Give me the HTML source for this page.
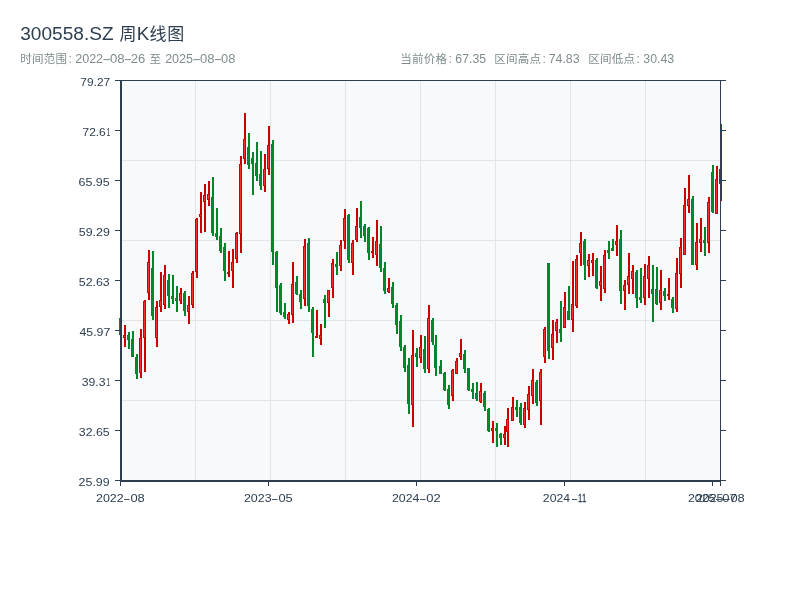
<!DOCTYPE html>
<html lang="zh"><head><meta charset="utf-8"><title>300558.SZ 周K线图</title>
<style>html,body{margin:0;padding:0;background:#fff;}svg{display:block;will-change:transform;}text{font-family:"Liberation Sans","Noto Sans CJK SC",sans-serif;}.ax{fill:#2c3e50;font-size:11px;}.sub{fill:#7f8c8d;font-size:12px;}.ttl{fill:#2c3e50;font-size:18px;}.cj{font-size:17px;}.cs{font-size:11.5px;}</style>
</head><body>
<svg width="800" height="600" viewBox="0 0 800 600">
<rect x="0" y="0" width="800" height="600" fill="#ffffff"/>
<text class="ttl" y="39.5"><tspan x="20.27" textLength="93.32" lengthAdjust="spacingAndGlyphs">300558.SZ</tspan> <tspan class="cj" x="119.6">周</tspan><tspan x="136.66" textLength="12.56" lengthAdjust="spacingAndGlyphs">K</tspan><tspan class="cj" x="149.6 167.2">线图</tspan></text>
<text class="sub" y="63"><tspan class="cs" x="20.2 31.95 43.7 55.45">时间范围</tspan><tspan x="68.5">:</tspan> <tspan x="75.17" textLength="27.96" lengthAdjust="spacingAndGlyphs">2022</tspan><tspan x="102.32" textLength="8.87" lengthAdjust="spacingAndGlyphs">-</tspan><tspan x="109.99" textLength="14.58" lengthAdjust="spacingAndGlyphs">08</tspan><tspan x="123.67" textLength="8.46" lengthAdjust="spacingAndGlyphs">-</tspan><tspan x="130.84" textLength="14.53" lengthAdjust="spacingAndGlyphs">26</tspan> <tspan class="cs" x="149.5">至</tspan> <tspan x="165.17" textLength="27.86" lengthAdjust="spacingAndGlyphs">2025</tspan><tspan x="192.32" textLength="8.87" lengthAdjust="spacingAndGlyphs">-</tspan><tspan x="199.99" textLength="14.58" lengthAdjust="spacingAndGlyphs">08</tspan><tspan x="213.67" textLength="8.46" lengthAdjust="spacingAndGlyphs">-</tspan><tspan x="221" textLength="14.37" lengthAdjust="spacingAndGlyphs">08</tspan></text>
<text class="sub" y="63"><tspan class="cs" x="400.3 412.05 423.8 435.55">当前价格</tspan><tspan x="448.5">:</tspan> <tspan x="455.38" textLength="30.64" lengthAdjust="spacingAndGlyphs">67.35</tspan>  <tspan class="cs" x="494.3 506.05 517.8 529.55">区间高点</tspan><tspan x="542.5">:</tspan> <tspan x="548.67" textLength="30.87" lengthAdjust="spacingAndGlyphs">74.83</tspan>  <tspan class="cs" x="588.3 600.05 611.8 623.55">区间低点</tspan><tspan x="636.5">:</tspan> <tspan x="643.33" textLength="30.81" lengthAdjust="spacingAndGlyphs">30.43</tspan></text>
<rect x="120" y="80" width="600" height="400" fill="#f8f9fa"/>
<rect x="195" y="80" width="1" height="400" fill="#e1e5e9"/>
<rect x="270" y="80" width="1" height="400" fill="#e1e5e9"/>
<rect x="345" y="80" width="1" height="400" fill="#e1e5e9"/>
<rect x="420" y="80" width="1" height="400" fill="#e1e5e9"/>
<rect x="495" y="80" width="1" height="400" fill="#e1e5e9"/>
<rect x="570" y="80" width="1" height="400" fill="#e1e5e9"/>
<rect x="645" y="80" width="1" height="400" fill="#e1e5e9"/>
<rect x="120" y="160" width="600" height="1" fill="#e1e5e9"/>
<rect x="120" y="240" width="600" height="1" fill="#e1e5e9"/>
<rect x="120" y="320" width="600" height="1" fill="#e1e5e9"/>
<rect x="120" y="400" width="600" height="1" fill="#e1e5e9"/>
<g>
<rect x="120" y="318" width="2" height="17" fill="#00852c"/>
<rect x="119" y="318" width="3" height="17" fill="#00852c"/>
<rect x="120" y="319" width="1" height="15" fill="#008d30"/>
<rect x="124" y="325" width="2" height="22" fill="#cc0000"/>
<rect x="123" y="335" width="3" height="3" fill="#cc0000"/>
<rect x="124" y="336" width="1" height="1" fill="#ff2e2e"/>
<rect x="128" y="332" width="2" height="17" fill="#00852c"/>
<rect x="127" y="335" width="3" height="5" fill="#00852c"/>
<rect x="128" y="336" width="1" height="3" fill="#008d30"/>
<rect x="132" y="331" width="2" height="26" fill="#00852c"/>
<rect x="131" y="339" width="3" height="18" fill="#00852c"/>
<rect x="132" y="340" width="1" height="16" fill="#008d30"/>
<rect x="136" y="354" width="2" height="25" fill="#00852c"/>
<rect x="135" y="357" width="3" height="17" fill="#00852c"/>
<rect x="136" y="358" width="1" height="15" fill="#008d30"/>
<rect x="140" y="329" width="2" height="49" fill="#cc0000"/>
<rect x="139" y="338" width="3" height="35" fill="#cc0000"/>
<rect x="140" y="339" width="1" height="33" fill="#ff2e2e"/>
<rect x="144" y="300" width="2" height="72" fill="#cc0000"/>
<rect x="143" y="301" width="3" height="37" fill="#cc0000"/>
<rect x="144" y="302" width="1" height="35" fill="#ff2e2e"/>
<rect x="148" y="250" width="2" height="50" fill="#cc0000"/>
<rect x="147" y="262" width="3" height="31" fill="#cc0000"/>
<rect x="148" y="263" width="1" height="29" fill="#ff2e2e"/>
<rect x="152" y="251" width="2" height="69" fill="#00852c"/>
<rect x="151" y="268" width="3" height="48" fill="#00852c"/>
<rect x="152" y="269" width="1" height="46" fill="#008d30"/>
<rect x="156" y="301" width="2" height="46" fill="#cc0000"/>
<rect x="155" y="307" width="3" height="31" fill="#cc0000"/>
<rect x="156" y="308" width="1" height="29" fill="#ff2e2e"/>
<rect x="160" y="272" width="2" height="40" fill="#cc0000"/>
<rect x="159" y="300" width="3" height="7" fill="#cc0000"/>
<rect x="160" y="301" width="1" height="5" fill="#ff2e2e"/>
<rect x="164" y="265" width="2" height="44" fill="#cc0000"/>
<rect x="163" y="275" width="3" height="30" fill="#cc0000"/>
<rect x="164" y="276" width="1" height="28" fill="#ff2e2e"/>
<rect x="168" y="274" width="2" height="34" fill="#00852c"/>
<rect x="167" y="280" width="3" height="16" fill="#00852c"/>
<rect x="168" y="281" width="1" height="14" fill="#008d30"/>
<rect x="172" y="275" width="2" height="29" fill="#00852c"/>
<rect x="171" y="296" width="3" height="3" fill="#00852c"/>
<rect x="172" y="297" width="1" height="1" fill="#008d30"/>
<rect x="176" y="286" width="2" height="26" fill="#00852c"/>
<rect x="175" y="298" width="3" height="3" fill="#00852c"/>
<rect x="176" y="299" width="1" height="1" fill="#008d30"/>
<rect x="180" y="288" width="2" height="16" fill="#cc0000"/>
<rect x="179" y="293" width="3" height="8" fill="#cc0000"/>
<rect x="180" y="294" width="1" height="6" fill="#ff2e2e"/>
<rect x="184" y="291" width="2" height="25" fill="#00852c"/>
<rect x="183" y="293" width="3" height="18" fill="#00852c"/>
<rect x="184" y="294" width="1" height="16" fill="#008d30"/>
<rect x="188" y="296" width="2" height="28" fill="#cc0000"/>
<rect x="187" y="305" width="3" height="7" fill="#cc0000"/>
<rect x="188" y="306" width="1" height="5" fill="#ff2e2e"/>
<rect x="192" y="271" width="2" height="37" fill="#cc0000"/>
<rect x="191" y="273" width="3" height="32" fill="#cc0000"/>
<rect x="192" y="274" width="1" height="30" fill="#ff2e2e"/>
<rect x="196" y="218" width="2" height="60" fill="#cc0000"/>
<rect x="195" y="219" width="3" height="53" fill="#cc0000"/>
<rect x="196" y="220" width="1" height="51" fill="#ff2e2e"/>
<rect x="200" y="192" width="2" height="41" fill="#cc0000"/>
<rect x="199" y="214" width="3" height="3" fill="#cc0000"/>
<rect x="200" y="215" width="1" height="1" fill="#ff2e2e"/>
<rect x="204" y="184" width="2" height="48" fill="#cc0000"/>
<rect x="203" y="195" width="3" height="7" fill="#cc0000"/>
<rect x="204" y="196" width="1" height="5" fill="#ff2e2e"/>
<rect x="208" y="181" width="2" height="25" fill="#cc0000"/>
<rect x="207" y="194" width="3" height="6" fill="#cc0000"/>
<rect x="208" y="195" width="1" height="4" fill="#ff2e2e"/>
<rect x="212" y="177" width="2" height="59" fill="#00852c"/>
<rect x="211" y="197" width="3" height="36" fill="#00852c"/>
<rect x="212" y="198" width="1" height="34" fill="#008d30"/>
<rect x="216" y="208" width="2" height="32" fill="#00852c"/>
<rect x="215" y="233" width="3" height="4" fill="#00852c"/>
<rect x="216" y="234" width="1" height="2" fill="#008d30"/>
<rect x="220" y="228" width="2" height="25" fill="#00852c"/>
<rect x="219" y="236" width="3" height="15" fill="#00852c"/>
<rect x="220" y="237" width="1" height="13" fill="#008d30"/>
<rect x="224" y="243" width="2" height="38" fill="#00852c"/>
<rect x="223" y="247" width="3" height="24" fill="#00852c"/>
<rect x="224" y="248" width="1" height="22" fill="#008d30"/>
<rect x="228" y="251" width="2" height="26" fill="#cc0000"/>
<rect x="227" y="272" width="3" height="2" fill="#cc0000"/>
<rect x="232" y="249" width="2" height="39" fill="#cc0000"/>
<rect x="231" y="262" width="3" height="9" fill="#cc0000"/>
<rect x="232" y="263" width="1" height="7" fill="#ff2e2e"/>
<rect x="236" y="232" width="2" height="31" fill="#cc0000"/>
<rect x="235" y="233" width="3" height="26" fill="#cc0000"/>
<rect x="236" y="234" width="1" height="24" fill="#ff2e2e"/>
<rect x="240" y="156" width="2" height="97" fill="#cc0000"/>
<rect x="239" y="164" width="3" height="70" fill="#cc0000"/>
<rect x="240" y="165" width="1" height="68" fill="#ff2e2e"/>
<rect x="244" y="113" width="2" height="51" fill="#cc0000"/>
<rect x="243" y="139" width="3" height="20" fill="#cc0000"/>
<rect x="244" y="140" width="1" height="18" fill="#ff2e2e"/>
<rect x="248" y="133" width="2" height="36" fill="#00852c"/>
<rect x="247" y="147" width="3" height="18" fill="#00852c"/>
<rect x="248" y="148" width="1" height="16" fill="#008d30"/>
<rect x="252" y="152" width="2" height="43" fill="#00852c"/>
<rect x="251" y="158" width="3" height="6" fill="#00852c"/>
<rect x="252" y="159" width="1" height="4" fill="#008d30"/>
<rect x="256" y="142" width="2" height="39" fill="#00852c"/>
<rect x="255" y="163" width="3" height="13" fill="#00852c"/>
<rect x="256" y="164" width="1" height="11" fill="#008d30"/>
<rect x="260" y="151" width="2" height="39" fill="#00852c"/>
<rect x="259" y="174" width="3" height="12" fill="#00852c"/>
<rect x="260" y="175" width="1" height="10" fill="#008d30"/>
<rect x="264" y="154" width="2" height="38" fill="#cc0000"/>
<rect x="263" y="169" width="3" height="17" fill="#cc0000"/>
<rect x="264" y="170" width="1" height="15" fill="#ff2e2e"/>
<rect x="268" y="126" width="2" height="49" fill="#cc0000"/>
<rect x="267" y="145" width="3" height="24" fill="#cc0000"/>
<rect x="268" y="146" width="1" height="22" fill="#ff2e2e"/>
<rect x="272" y="140" width="2" height="125" fill="#00852c"/>
<rect x="271" y="144" width="3" height="108" fill="#00852c"/>
<rect x="272" y="145" width="1" height="106" fill="#008d30"/>
<rect x="276" y="251" width="2" height="61" fill="#00852c"/>
<rect x="275" y="252" width="3" height="36" fill="#00852c"/>
<rect x="276" y="253" width="1" height="34" fill="#008d30"/>
<rect x="280" y="283" width="2" height="32" fill="#00852c"/>
<rect x="279" y="285" width="3" height="28" fill="#00852c"/>
<rect x="280" y="286" width="1" height="26" fill="#008d30"/>
<rect x="284" y="303" width="2" height="16" fill="#00852c"/>
<rect x="283" y="312" width="3" height="5" fill="#00852c"/>
<rect x="284" y="313" width="1" height="3" fill="#008d30"/>
<rect x="288" y="312" width="2" height="12" fill="#cc0000"/>
<rect x="287" y="314" width="3" height="6" fill="#cc0000"/>
<rect x="288" y="315" width="1" height="4" fill="#ff2e2e"/>
<rect x="292" y="262" width="2" height="61" fill="#cc0000"/>
<rect x="291" y="284" width="3" height="31" fill="#cc0000"/>
<rect x="292" y="285" width="1" height="29" fill="#ff2e2e"/>
<rect x="296" y="276" width="2" height="19" fill="#00852c"/>
<rect x="295" y="282" width="3" height="12" fill="#00852c"/>
<rect x="296" y="283" width="1" height="10" fill="#008d30"/>
<rect x="300" y="290" width="2" height="19" fill="#00852c"/>
<rect x="299" y="294" width="3" height="8" fill="#00852c"/>
<rect x="300" y="295" width="1" height="6" fill="#008d30"/>
<rect x="304" y="239" width="2" height="67" fill="#cc0000"/>
<rect x="303" y="246" width="3" height="53" fill="#cc0000"/>
<rect x="304" y="247" width="1" height="51" fill="#ff2e2e"/>
<rect x="308" y="238" width="2" height="74" fill="#00852c"/>
<rect x="307" y="243" width="3" height="63" fill="#00852c"/>
<rect x="308" y="244" width="1" height="61" fill="#008d30"/>
<rect x="312" y="307" width="2" height="50" fill="#00852c"/>
<rect x="311" y="309" width="3" height="24" fill="#00852c"/>
<rect x="312" y="310" width="1" height="22" fill="#008d30"/>
<rect x="316" y="310" width="2" height="28" fill="#cc0000"/>
<rect x="315" y="336" width="3" height="2" fill="#cc0000"/>
<rect x="320" y="324" width="2" height="21" fill="#cc0000"/>
<rect x="319" y="335" width="3" height="4" fill="#cc0000"/>
<rect x="320" y="336" width="1" height="2" fill="#ff2e2e"/>
<rect x="324" y="295" width="2" height="33" fill="#00852c"/>
<rect x="323" y="299" width="3" height="4" fill="#00852c"/>
<rect x="324" y="300" width="1" height="2" fill="#008d30"/>
<rect x="328" y="290" width="2" height="27" fill="#cc0000"/>
<rect x="327" y="290" width="3" height="13" fill="#cc0000"/>
<rect x="328" y="291" width="1" height="11" fill="#ff2e2e"/>
<rect x="332" y="259" width="2" height="39" fill="#cc0000"/>
<rect x="331" y="263" width="3" height="25" fill="#cc0000"/>
<rect x="332" y="264" width="1" height="23" fill="#ff2e2e"/>
<rect x="336" y="252" width="2" height="23" fill="#00852c"/>
<rect x="335" y="264" width="3" height="3" fill="#00852c"/>
<rect x="336" y="265" width="1" height="1" fill="#008d30"/>
<rect x="340" y="240" width="2" height="31" fill="#cc0000"/>
<rect x="339" y="245" width="3" height="21" fill="#cc0000"/>
<rect x="340" y="246" width="1" height="19" fill="#ff2e2e"/>
<rect x="344" y="209" width="2" height="40" fill="#cc0000"/>
<rect x="343" y="218" width="3" height="23" fill="#cc0000"/>
<rect x="344" y="219" width="1" height="21" fill="#ff2e2e"/>
<rect x="348" y="214" width="2" height="49" fill="#00852c"/>
<rect x="347" y="215" width="3" height="45" fill="#00852c"/>
<rect x="348" y="216" width="1" height="43" fill="#008d30"/>
<rect x="352" y="240" width="2" height="35" fill="#cc0000"/>
<rect x="351" y="243" width="3" height="20" fill="#cc0000"/>
<rect x="352" y="244" width="1" height="18" fill="#ff2e2e"/>
<rect x="356" y="208" width="2" height="34" fill="#cc0000"/>
<rect x="355" y="226" width="3" height="14" fill="#cc0000"/>
<rect x="356" y="227" width="1" height="12" fill="#ff2e2e"/>
<rect x="360" y="201" width="2" height="37" fill="#00852c"/>
<rect x="359" y="217" width="3" height="11" fill="#00852c"/>
<rect x="360" y="218" width="1" height="9" fill="#008d30"/>
<rect x="364" y="224" width="2" height="18" fill="#00852c"/>
<rect x="363" y="226" width="3" height="10" fill="#00852c"/>
<rect x="364" y="227" width="1" height="8" fill="#008d30"/>
<rect x="368" y="227" width="2" height="33" fill="#00852c"/>
<rect x="367" y="228" width="3" height="25" fill="#00852c"/>
<rect x="368" y="229" width="1" height="23" fill="#008d30"/>
<rect x="372" y="237" width="2" height="21" fill="#cc0000"/>
<rect x="371" y="251" width="3" height="2" fill="#cc0000"/>
<rect x="376" y="220" width="2" height="46" fill="#cc0000"/>
<rect x="375" y="241" width="3" height="14" fill="#cc0000"/>
<rect x="376" y="242" width="1" height="12" fill="#ff2e2e"/>
<rect x="380" y="226" width="2" height="46" fill="#00852c"/>
<rect x="379" y="244" width="3" height="24" fill="#00852c"/>
<rect x="380" y="245" width="1" height="22" fill="#008d30"/>
<rect x="384" y="262" width="2" height="32" fill="#00852c"/>
<rect x="383" y="268" width="3" height="23" fill="#00852c"/>
<rect x="384" y="269" width="1" height="21" fill="#008d30"/>
<rect x="388" y="278" width="2" height="15" fill="#cc0000"/>
<rect x="387" y="288" width="3" height="4" fill="#cc0000"/>
<rect x="388" y="289" width="1" height="2" fill="#ff2e2e"/>
<rect x="392" y="282" width="2" height="26" fill="#00852c"/>
<rect x="391" y="287" width="3" height="17" fill="#00852c"/>
<rect x="392" y="288" width="1" height="15" fill="#008d30"/>
<rect x="396" y="303" width="2" height="31" fill="#00852c"/>
<rect x="395" y="305" width="3" height="20" fill="#00852c"/>
<rect x="396" y="306" width="1" height="18" fill="#008d30"/>
<rect x="400" y="315" width="2" height="36" fill="#00852c"/>
<rect x="399" y="321" width="3" height="26" fill="#00852c"/>
<rect x="400" y="322" width="1" height="24" fill="#008d30"/>
<rect x="404" y="345" width="2" height="27" fill="#00852c"/>
<rect x="403" y="347" width="3" height="21" fill="#00852c"/>
<rect x="404" y="348" width="1" height="19" fill="#008d30"/>
<rect x="408" y="358" width="2" height="56" fill="#00852c"/>
<rect x="407" y="365" width="3" height="39" fill="#00852c"/>
<rect x="408" y="366" width="1" height="37" fill="#008d30"/>
<rect x="412" y="330" width="2" height="97" fill="#cc0000"/>
<rect x="411" y="355" width="3" height="50" fill="#cc0000"/>
<rect x="412" y="356" width="1" height="48" fill="#ff2e2e"/>
<rect x="416" y="348" width="2" height="19" fill="#00852c"/>
<rect x="415" y="353" width="3" height="4" fill="#00852c"/>
<rect x="416" y="354" width="1" height="2" fill="#008d30"/>
<rect x="420" y="335" width="2" height="28" fill="#cc0000"/>
<rect x="419" y="347" width="3" height="11" fill="#cc0000"/>
<rect x="420" y="348" width="1" height="9" fill="#ff2e2e"/>
<rect x="424" y="336" width="2" height="37" fill="#00852c"/>
<rect x="423" y="349" width="3" height="20" fill="#00852c"/>
<rect x="424" y="350" width="1" height="18" fill="#008d30"/>
<rect x="428" y="305" width="2" height="68" fill="#cc0000"/>
<rect x="427" y="318" width="3" height="51" fill="#cc0000"/>
<rect x="428" y="319" width="1" height="49" fill="#ff2e2e"/>
<rect x="432" y="318" width="2" height="27" fill="#00852c"/>
<rect x="431" y="320" width="3" height="22" fill="#00852c"/>
<rect x="432" y="321" width="1" height="20" fill="#008d30"/>
<rect x="435" y="335" width="2" height="41" fill="#00852c"/>
<rect x="434" y="345" width="3" height="23" fill="#00852c"/>
<rect x="435" y="346" width="1" height="21" fill="#008d30"/>
<rect x="440" y="360" width="2" height="14" fill="#00852c"/>
<rect x="439" y="366" width="3" height="8" fill="#00852c"/>
<rect x="440" y="367" width="1" height="6" fill="#008d30"/>
<rect x="444" y="372" width="2" height="19" fill="#00852c"/>
<rect x="443" y="373" width="3" height="17" fill="#00852c"/>
<rect x="444" y="374" width="1" height="15" fill="#008d30"/>
<rect x="448" y="385" width="2" height="24" fill="#00852c"/>
<rect x="447" y="389" width="3" height="16" fill="#00852c"/>
<rect x="448" y="390" width="1" height="14" fill="#008d30"/>
<rect x="452" y="369" width="2" height="32" fill="#cc0000"/>
<rect x="451" y="370" width="3" height="26" fill="#cc0000"/>
<rect x="452" y="371" width="1" height="24" fill="#ff2e2e"/>
<rect x="456" y="358" width="2" height="16" fill="#cc0000"/>
<rect x="455" y="361" width="3" height="13" fill="#cc0000"/>
<rect x="456" y="362" width="1" height="11" fill="#ff2e2e"/>
<rect x="460" y="339" width="2" height="21" fill="#cc0000"/>
<rect x="459" y="353" width="3" height="4" fill="#cc0000"/>
<rect x="460" y="354" width="1" height="2" fill="#ff2e2e"/>
<rect x="464" y="350" width="2" height="23" fill="#00852c"/>
<rect x="463" y="354" width="3" height="15" fill="#00852c"/>
<rect x="464" y="355" width="1" height="13" fill="#008d30"/>
<rect x="468" y="368" width="2" height="23" fill="#00852c"/>
<rect x="467" y="368" width="3" height="22" fill="#00852c"/>
<rect x="468" y="369" width="1" height="20" fill="#008d30"/>
<rect x="472" y="383" width="2" height="16" fill="#00852c"/>
<rect x="471" y="389" width="3" height="3" fill="#00852c"/>
<rect x="472" y="390" width="1" height="1" fill="#008d30"/>
<rect x="476" y="382" width="2" height="19" fill="#00852c"/>
<rect x="475" y="393" width="3" height="6" fill="#00852c"/>
<rect x="476" y="394" width="1" height="4" fill="#008d30"/>
<rect x="480" y="383" width="2" height="20" fill="#cc0000"/>
<rect x="479" y="391" width="3" height="11" fill="#cc0000"/>
<rect x="480" y="392" width="1" height="9" fill="#ff2e2e"/>
<rect x="484" y="391" width="2" height="20" fill="#00852c"/>
<rect x="483" y="393" width="3" height="14" fill="#00852c"/>
<rect x="484" y="394" width="1" height="12" fill="#008d30"/>
<rect x="488" y="408" width="2" height="24" fill="#00852c"/>
<rect x="487" y="409" width="3" height="22" fill="#00852c"/>
<rect x="488" y="410" width="1" height="20" fill="#008d30"/>
<rect x="492" y="421" width="2" height="22" fill="#cc0000"/>
<rect x="491" y="428" width="3" height="3" fill="#cc0000"/>
<rect x="492" y="429" width="1" height="1" fill="#ff2e2e"/>
<rect x="496" y="423" width="2" height="24" fill="#00852c"/>
<rect x="495" y="428" width="3" height="3" fill="#00852c"/>
<rect x="496" y="429" width="1" height="1" fill="#008d30"/>
<rect x="500" y="433" width="2" height="12" fill="#00852c"/>
<rect x="499" y="434" width="3" height="4" fill="#00852c"/>
<rect x="500" y="435" width="1" height="2" fill="#008d30"/>
<rect x="504" y="426" width="2" height="19" fill="#cc0000"/>
<rect x="503" y="434" width="3" height="4" fill="#cc0000"/>
<rect x="504" y="435" width="1" height="2" fill="#ff2e2e"/>
<rect x="507" y="408" width="2" height="39" fill="#cc0000"/>
<rect x="506" y="419" width="3" height="13" fill="#cc0000"/>
<rect x="507" y="420" width="1" height="11" fill="#ff2e2e"/>
<rect x="512" y="397" width="2" height="24" fill="#cc0000"/>
<rect x="511" y="407" width="3" height="14" fill="#cc0000"/>
<rect x="512" y="408" width="1" height="12" fill="#ff2e2e"/>
<rect x="516" y="400" width="2" height="17" fill="#00852c"/>
<rect x="515" y="407" width="3" height="3" fill="#00852c"/>
<rect x="516" y="408" width="1" height="1" fill="#008d30"/>
<rect x="520" y="403" width="2" height="22" fill="#00852c"/>
<rect x="519" y="407" width="3" height="16" fill="#00852c"/>
<rect x="520" y="408" width="1" height="14" fill="#008d30"/>
<rect x="524" y="402" width="2" height="26" fill="#cc0000"/>
<rect x="523" y="408" width="3" height="17" fill="#cc0000"/>
<rect x="524" y="409" width="1" height="15" fill="#ff2e2e"/>
<rect x="528" y="386" width="2" height="34" fill="#cc0000"/>
<rect x="527" y="394" width="3" height="16" fill="#cc0000"/>
<rect x="528" y="395" width="1" height="14" fill="#ff2e2e"/>
<rect x="532" y="369" width="2" height="35" fill="#cc0000"/>
<rect x="531" y="380" width="3" height="16" fill="#cc0000"/>
<rect x="532" y="381" width="1" height="14" fill="#ff2e2e"/>
<rect x="536" y="380" width="2" height="26" fill="#00852c"/>
<rect x="535" y="382" width="3" height="21" fill="#00852c"/>
<rect x="536" y="383" width="1" height="19" fill="#008d30"/>
<rect x="540" y="369" width="2" height="56" fill="#cc0000"/>
<rect x="539" y="372" width="3" height="29" fill="#cc0000"/>
<rect x="540" y="373" width="1" height="27" fill="#ff2e2e"/>
<rect x="544" y="327" width="2" height="36" fill="#cc0000"/>
<rect x="543" y="329" width="3" height="28" fill="#cc0000"/>
<rect x="544" y="330" width="1" height="26" fill="#ff2e2e"/>
<rect x="548" y="263" width="2" height="96" fill="#00852c"/>
<rect x="547" y="263" width="3" height="88" fill="#00852c"/>
<rect x="548" y="264" width="1" height="86" fill="#008d30"/>
<rect x="552" y="320" width="2" height="40" fill="#cc0000"/>
<rect x="551" y="334" width="3" height="14" fill="#cc0000"/>
<rect x="552" y="335" width="1" height="12" fill="#ff2e2e"/>
<rect x="556" y="319" width="2" height="24" fill="#cc0000"/>
<rect x="555" y="322" width="3" height="9" fill="#cc0000"/>
<rect x="556" y="323" width="1" height="7" fill="#ff2e2e"/>
<rect x="560" y="301" width="2" height="41" fill="#00852c"/>
<rect x="559" y="329" width="3" height="4" fill="#00852c"/>
<rect x="560" y="330" width="1" height="2" fill="#008d30"/>
<rect x="564" y="292" width="2" height="36" fill="#cc0000"/>
<rect x="563" y="307" width="3" height="21" fill="#cc0000"/>
<rect x="564" y="308" width="1" height="19" fill="#ff2e2e"/>
<rect x="568" y="286" width="2" height="34" fill="#00852c"/>
<rect x="567" y="311" width="3" height="9" fill="#00852c"/>
<rect x="568" y="312" width="1" height="7" fill="#008d30"/>
<rect x="572" y="261" width="2" height="71" fill="#cc0000"/>
<rect x="571" y="304" width="3" height="16" fill="#cc0000"/>
<rect x="572" y="305" width="1" height="14" fill="#ff2e2e"/>
<rect x="576" y="255" width="2" height="53" fill="#cc0000"/>
<rect x="575" y="259" width="3" height="47" fill="#cc0000"/>
<rect x="576" y="260" width="1" height="45" fill="#ff2e2e"/>
<rect x="580" y="232" width="2" height="34" fill="#cc0000"/>
<rect x="579" y="243" width="3" height="10" fill="#cc0000"/>
<rect x="580" y="244" width="1" height="8" fill="#ff2e2e"/>
<rect x="584" y="239" width="2" height="41" fill="#00852c"/>
<rect x="583" y="241" width="3" height="24" fill="#00852c"/>
<rect x="584" y="242" width="1" height="22" fill="#008d30"/>
<rect x="588" y="254" width="2" height="23" fill="#cc0000"/>
<rect x="587" y="260" width="3" height="6" fill="#cc0000"/>
<rect x="588" y="261" width="1" height="4" fill="#ff2e2e"/>
<rect x="592" y="253" width="2" height="23" fill="#cc0000"/>
<rect x="591" y="260" width="3" height="3" fill="#cc0000"/>
<rect x="592" y="261" width="1" height="1" fill="#ff2e2e"/>
<rect x="596" y="258" width="2" height="31" fill="#00852c"/>
<rect x="595" y="260" width="3" height="28" fill="#00852c"/>
<rect x="596" y="261" width="1" height="26" fill="#008d30"/>
<rect x="600" y="266" width="2" height="35" fill="#cc0000"/>
<rect x="599" y="281" width="3" height="5" fill="#cc0000"/>
<rect x="600" y="282" width="1" height="3" fill="#ff2e2e"/>
<rect x="604" y="250" width="2" height="43" fill="#cc0000"/>
<rect x="603" y="255" width="3" height="34" fill="#cc0000"/>
<rect x="604" y="256" width="1" height="32" fill="#ff2e2e"/>
<rect x="608" y="241" width="2" height="18" fill="#00852c"/>
<rect x="607" y="250" width="3" height="3" fill="#00852c"/>
<rect x="608" y="251" width="1" height="1" fill="#008d30"/>
<rect x="612" y="239" width="2" height="12" fill="#00852c"/>
<rect x="611" y="248" width="3" height="3" fill="#00852c"/>
<rect x="612" y="249" width="1" height="1" fill="#008d30"/>
<rect x="616" y="225" width="2" height="31" fill="#cc0000"/>
<rect x="615" y="241" width="3" height="4" fill="#cc0000"/>
<rect x="616" y="242" width="1" height="2" fill="#ff2e2e"/>
<rect x="620" y="230" width="2" height="74" fill="#00852c"/>
<rect x="619" y="239" width="3" height="52" fill="#00852c"/>
<rect x="620" y="240" width="1" height="50" fill="#008d30"/>
<rect x="624" y="280" width="2" height="30" fill="#cc0000"/>
<rect x="623" y="285" width="3" height="6" fill="#cc0000"/>
<rect x="624" y="286" width="1" height="4" fill="#ff2e2e"/>
<rect x="628" y="253" width="2" height="41" fill="#cc0000"/>
<rect x="627" y="276" width="3" height="9" fill="#cc0000"/>
<rect x="628" y="277" width="1" height="7" fill="#ff2e2e"/>
<rect x="632" y="265" width="2" height="29" fill="#cc0000"/>
<rect x="631" y="271" width="3" height="8" fill="#cc0000"/>
<rect x="632" y="272" width="1" height="6" fill="#ff2e2e"/>
<rect x="636" y="270" width="2" height="38" fill="#00852c"/>
<rect x="635" y="272" width="3" height="26" fill="#00852c"/>
<rect x="636" y="273" width="1" height="24" fill="#008d30"/>
<rect x="640" y="268" width="2" height="35" fill="#00852c"/>
<rect x="639" y="297" width="3" height="3" fill="#00852c"/>
<rect x="640" y="298" width="1" height="1" fill="#008d30"/>
<rect x="644" y="264" width="2" height="41" fill="#cc0000"/>
<rect x="643" y="276" width="3" height="22" fill="#cc0000"/>
<rect x="644" y="277" width="1" height="20" fill="#ff2e2e"/>
<rect x="648" y="256" width="2" height="42" fill="#cc0000"/>
<rect x="647" y="265" width="3" height="14" fill="#cc0000"/>
<rect x="648" y="266" width="1" height="12" fill="#ff2e2e"/>
<rect x="652" y="265" width="2" height="57" fill="#00852c"/>
<rect x="651" y="289" width="3" height="5" fill="#00852c"/>
<rect x="652" y="290" width="1" height="3" fill="#008d30"/>
<rect x="656" y="267" width="2" height="38" fill="#00852c"/>
<rect x="655" y="289" width="3" height="15" fill="#00852c"/>
<rect x="656" y="290" width="1" height="13" fill="#008d30"/>
<rect x="660" y="270" width="2" height="40" fill="#cc0000"/>
<rect x="659" y="290" width="3" height="13" fill="#cc0000"/>
<rect x="660" y="291" width="1" height="11" fill="#ff2e2e"/>
<rect x="664" y="288" width="2" height="13" fill="#00852c"/>
<rect x="663" y="291" width="3" height="5" fill="#00852c"/>
<rect x="664" y="292" width="1" height="3" fill="#008d30"/>
<rect x="668" y="278" width="2" height="22" fill="#cc0000"/>
<rect x="667" y="294" width="3" height="2" fill="#cc0000"/>
<rect x="672" y="297" width="2" height="16" fill="#00852c"/>
<rect x="671" y="299" width="3" height="9" fill="#00852c"/>
<rect x="672" y="300" width="1" height="7" fill="#008d30"/>
<rect x="676" y="258" width="2" height="54" fill="#cc0000"/>
<rect x="675" y="273" width="3" height="36" fill="#cc0000"/>
<rect x="676" y="274" width="1" height="34" fill="#ff2e2e"/>
<rect x="680" y="238" width="2" height="50" fill="#cc0000"/>
<rect x="679" y="247" width="3" height="27" fill="#cc0000"/>
<rect x="680" y="248" width="1" height="25" fill="#ff2e2e"/>
<rect x="684" y="188" width="2" height="67" fill="#cc0000"/>
<rect x="683" y="205" width="3" height="50" fill="#cc0000"/>
<rect x="684" y="206" width="1" height="48" fill="#ff2e2e"/>
<rect x="688" y="175" width="2" height="38" fill="#cc0000"/>
<rect x="687" y="199" width="3" height="7" fill="#cc0000"/>
<rect x="688" y="200" width="1" height="5" fill="#ff2e2e"/>
<rect x="692" y="196" width="2" height="69" fill="#00852c"/>
<rect x="691" y="199" width="3" height="66" fill="#00852c"/>
<rect x="692" y="200" width="1" height="64" fill="#008d30"/>
<rect x="696" y="223" width="2" height="47" fill="#cc0000"/>
<rect x="695" y="242" width="3" height="23" fill="#cc0000"/>
<rect x="696" y="243" width="1" height="21" fill="#ff2e2e"/>
<rect x="700" y="218" width="2" height="34" fill="#cc0000"/>
<rect x="699" y="239" width="3" height="4" fill="#cc0000"/>
<rect x="700" y="240" width="1" height="2" fill="#ff2e2e"/>
<rect x="704" y="227" width="2" height="29" fill="#00852c"/>
<rect x="703" y="240" width="3" height="3" fill="#00852c"/>
<rect x="704" y="241" width="1" height="1" fill="#008d30"/>
<rect x="708" y="197" width="2" height="56" fill="#cc0000"/>
<rect x="707" y="202" width="3" height="41" fill="#cc0000"/>
<rect x="708" y="203" width="1" height="39" fill="#ff2e2e"/>
<rect x="712" y="165" width="2" height="48" fill="#00852c"/>
<rect x="711" y="172" width="3" height="40" fill="#00852c"/>
<rect x="712" y="173" width="1" height="38" fill="#008d30"/>
<rect x="716" y="166" width="2" height="48" fill="#cc0000"/>
<rect x="715" y="179" width="3" height="35" fill="#cc0000"/>
<rect x="716" y="180" width="1" height="33" fill="#ff2e2e"/>
<rect x="720" y="124" width="2" height="77" fill="#cc0000"/>
<rect x="719" y="169" width="3" height="15" fill="#cc0000"/>
<rect x="720" y="170" width="1" height="13" fill="#ff2e2e"/>
</g>
<rect x="120" y="80" width="601" height="1" fill="#2c3e50"/>
<rect x="720" y="80" width="1" height="402" fill="#2c3e50"/>
<rect x="120" y="80" width="2" height="402" fill="#2c3e50"/>
<rect x="120" y="480" width="601" height="2" fill="#2c3e50"/>
<rect x="115" y="80" width="5" height="1" fill="#2c3e50"/>
<rect x="720" y="80" width="6" height="1" fill="#2c3e50"/>
<text class="ax" y="86"><tspan x="80.39" textLength="29.81" lengthAdjust="spacingAndGlyphs">79.27</tspan></text>
<rect x="115" y="130" width="5" height="1" fill="#2c3e50"/>
<rect x="720" y="130" width="6" height="1" fill="#2c3e50"/>
<text class="ax" y="136"><tspan x="82.49" textLength="23.29" lengthAdjust="spacingAndGlyphs">72.6</tspan><tspan x="106.57" textLength="3.87" lengthAdjust="spacingAndGlyphs">1</tspan></text>
<rect x="115" y="180" width="5" height="1" fill="#2c3e50"/>
<rect x="720" y="180" width="6" height="1" fill="#2c3e50"/>
<text class="ax" y="186"><tspan x="78.57" textLength="31.16" lengthAdjust="spacingAndGlyphs">65.95</tspan></text>
<rect x="115" y="230" width="5" height="1" fill="#2c3e50"/>
<rect x="720" y="230" width="6" height="1" fill="#2c3e50"/>
<text class="ax" y="236"><tspan x="78.75" textLength="31.03" lengthAdjust="spacingAndGlyphs">59.29</tspan></text>
<rect x="115" y="280" width="5" height="1" fill="#2c3e50"/>
<rect x="720" y="280" width="6" height="1" fill="#2c3e50"/>
<text class="ax" y="286"><tspan x="78.75" textLength="30.99" lengthAdjust="spacingAndGlyphs">52.63</tspan></text>
<rect x="115" y="330" width="5" height="1" fill="#2c3e50"/>
<rect x="720" y="330" width="6" height="1" fill="#2c3e50"/>
<text class="ax" y="336"><tspan x="79.52" textLength="30.7" lengthAdjust="spacingAndGlyphs">45.97</tspan></text>
<rect x="115" y="380" width="5" height="1" fill="#2c3e50"/>
<rect x="720" y="380" width="6" height="1" fill="#2c3e50"/>
<text class="ax" y="386"><tspan x="81.73" textLength="23.8" lengthAdjust="spacingAndGlyphs">39.3</tspan><tspan x="106.37" textLength="3.87" lengthAdjust="spacingAndGlyphs">1</tspan></text>
<rect x="115" y="430" width="5" height="1" fill="#2c3e50"/>
<rect x="720" y="430" width="6" height="1" fill="#2c3e50"/>
<text class="ax" y="436"><tspan x="78.78" textLength="30.94" lengthAdjust="spacingAndGlyphs">32.65</tspan></text>
<rect x="115" y="480" width="5" height="1" fill="#2c3e50"/>
<rect x="720" y="480" width="6" height="1" fill="#2c3e50"/>
<text class="ax" y="486"><tspan x="78.63" textLength="30.96" lengthAdjust="spacingAndGlyphs">25.99</tspan></text>
<rect x="120" y="480" width="1" height="6" fill="#2c3e50"/>
<text class="ax" y="502"><tspan x="95.97" textLength="27.65" lengthAdjust="spacingAndGlyphs">2022</tspan><tspan x="123.07" textLength="7.71" lengthAdjust="spacingAndGlyphs">-</tspan><tspan x="130.4" textLength="14.37" lengthAdjust="spacingAndGlyphs">08</tspan></text>
<rect x="268" y="480" width="1" height="6" fill="#2c3e50"/>
<text class="ax" y="502"><tspan x="243.98" textLength="27.57" lengthAdjust="spacingAndGlyphs">2023</tspan><tspan x="271.07" textLength="7.71" lengthAdjust="spacingAndGlyphs">-</tspan><tspan x="278.4" textLength="14.35" lengthAdjust="spacingAndGlyphs">05</tspan></text>
<rect x="416" y="480" width="1" height="6" fill="#2c3e50"/>
<text class="ax" y="502"><tspan x="391.98" textLength="27.38" lengthAdjust="spacingAndGlyphs">2024</tspan><tspan x="419.07" textLength="7.71" lengthAdjust="spacingAndGlyphs">-</tspan><tspan x="426.39" textLength="14.46" lengthAdjust="spacingAndGlyphs">02</tspan></text>
<rect x="564" y="480" width="1" height="6" fill="#2c3e50"/>
<text class="ax" y="502"><tspan x="542.88" textLength="27.22" lengthAdjust="spacingAndGlyphs">2024</tspan><tspan x="570.95" textLength="7.09" lengthAdjust="spacingAndGlyphs">-</tspan><tspan x="578.02" textLength="4.26" lengthAdjust="spacingAndGlyphs" stroke="#2c3e50" stroke-width="0.3">1</tspan><tspan x="582.02" textLength="4.26" lengthAdjust="spacingAndGlyphs" stroke="#2c3e50" stroke-width="0.3">1</tspan></text>
<rect x="712" y="480" width="1" height="6" fill="#2c3e50"/>
<text class="ax" y="502"><tspan x="687.98" textLength="27.54" lengthAdjust="spacingAndGlyphs">2025</tspan><tspan x="715.07" textLength="7.71" lengthAdjust="spacingAndGlyphs">-</tspan><tspan x="722.39" textLength="14.46" lengthAdjust="spacingAndGlyphs">07</tspan></text>
<rect x="720" y="480" width="1" height="6" fill="#2c3e50"/>
<text class="ax" y="502"><tspan x="695.98" textLength="27.54" lengthAdjust="spacingAndGlyphs">2025</tspan><tspan x="723.07" textLength="7.71" lengthAdjust="spacingAndGlyphs">-</tspan><tspan x="730.4" textLength="14.37" lengthAdjust="spacingAndGlyphs">08</tspan></text>
</svg>
</body></html>
